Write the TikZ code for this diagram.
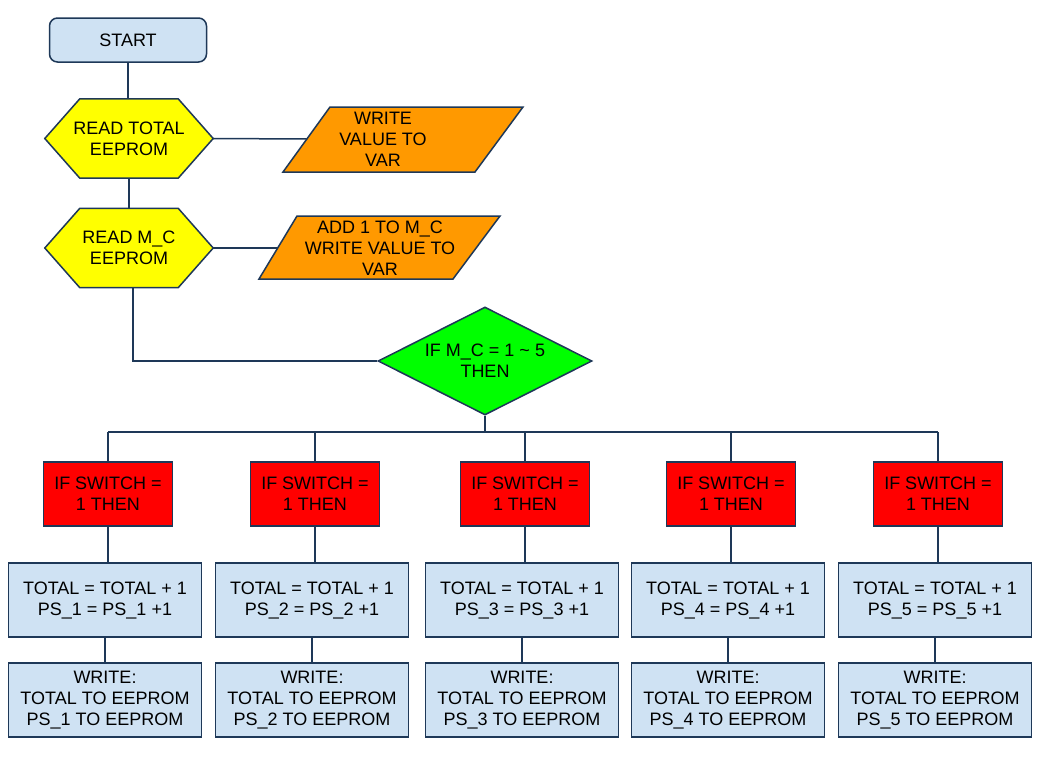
\documentclass[tikz,border=0pt]{standalone}
\usepackage{fontspec}
\setmainfont{Liberation Sans}
\usetikzlibrary{shapes.geometric,backgrounds,calc}
\definecolor{lc}{RGB}{30,56,88}
\definecolor{lblue}{RGB}{207,226,243}
\definecolor{yel}{RGB}{255,255,0}
\definecolor{org}{RGB}{255,153,0}
\definecolor{grn}{RGB}{0,255,0}
\definecolor{rd}{RGB}{255,0,0}
\tikzset{
  conn/.style={draw=lc, line width=1.5pt},
  shp/.style={draw=lc, line width=1.5pt, line join=miter},
  txt/.style={align=center, inner sep=0pt, font=\fontsize{18}{21}\selectfont},
  startbox/.style={txt, shp, fill=lblue, rounded corners=8pt, minimum width=157pt, minimum height=44pt},
  hexbox/.style={txt, minimum width=168pt, minimum height=79pt},
  decision/.style={txt, shp, fill=grn, diamond, aspect=2, minimum width=214pt, minimum height=108pt},
  redbox/.style={txt, shp, fill=rd, minimum width=129pt, minimum height=64pt},
  bluebox/.style={txt, shp, fill=lblue, minimum width=193pt, minimum height=74pt},
}
\newcommand{\hexshape}[1]{%
  \begin{pgfonlayer}{background}
  \filldraw[shp, fill=yel] (#1.west) -- ([xshift=35pt]#1.north west) -- ([xshift=-35pt]#1.north east)
    -- (#1.east) -- ([xshift=-35pt]#1.south east) -- ([xshift=35pt]#1.south west) -- cycle;
  \end{pgfonlayer}}
\begin{document}
\begin{tikzpicture}[x=1pt,y=-1pt]
\useasboundingbox (0,0) rectangle (1047,777);
\begin{pgfonlayer}{background}
\fill[white] (0,0) rectangle (1047,777);
\end{pgfonlayer}

% top
\node[startbox] (start) at (128,40) {START};
\node[hexbox] (hex1) at (129,138.5) {READ TOTAL\\EEPROM};
\hexshape{hex1}
\node[hexbox] (hex2) at (129,248) {READ M\_C\\EEPROM};
\hexshape{hex2}

% parallelograms
\filldraw[shp, fill=org] (330,107) -- (523,107) -- (475,172) -- (283,172) -- cycle;
\node[txt] (par1) at (383,139) {WRITE\\VALUE TO\\VAR};
\coordinate (par1in) at (307,139);
\filldraw[shp, fill=org] (297,216) -- (500,216) -- (453,279) -- (259,279) -- cycle;
\node[txt] (par2) at (380,248) {ADD 1 TO M\_C\\WRITE VALUE TO\\VAR};
\coordinate (par2in) at (278,248);

% decision
\node[decision] (dia) at (485,361) {IF M\_C = 1 \textasciitilde{} 5\\THEN};

\draw[conn] (start.south) -- (start.south |- hex1.north);
\draw[conn] (hex1.south) -- (hex1.south |- hex2.north);
\draw[conn] (hex1.east) -- (par1in);
\draw[conn] (hex2.east) -- (par2in);
\draw[conn] ([xshift=4pt]hex2.south) |- (dia.west);

% branches
\coordinate (bus) at (0,432);
\foreach \i/\rx/\bx in {1/108/105, 2/315/312, 3/525/522, 4/731/728, 5/938/935} {
  \node[redbox] (r\i) at (\rx,494) {IF SWITCH =\\1 THEN};
  \node[bluebox] (m\i) at (\bx,600) {TOTAL = TOTAL + 1\\PS\_\i{} = PS\_\i{} +1};
  \node[bluebox] (w\i) at (\bx,700) {WRITE:\\TOTAL TO EEPROM\\PS\_\i{} TO EEPROM};
  \draw[conn] (r\i.north |- bus) -- (r\i.north);
  \draw[conn] (r\i.south) -- (r\i.south |- m\i.north);
  \draw[conn] (m\i.south) -- (m\i.south |- w\i.north);
}
\draw[conn] (r1.north |- bus) -- (r5.north |- bus);
\draw[conn] (dia.south) -- (dia.south |- bus);
\end{tikzpicture}
\end{document}
